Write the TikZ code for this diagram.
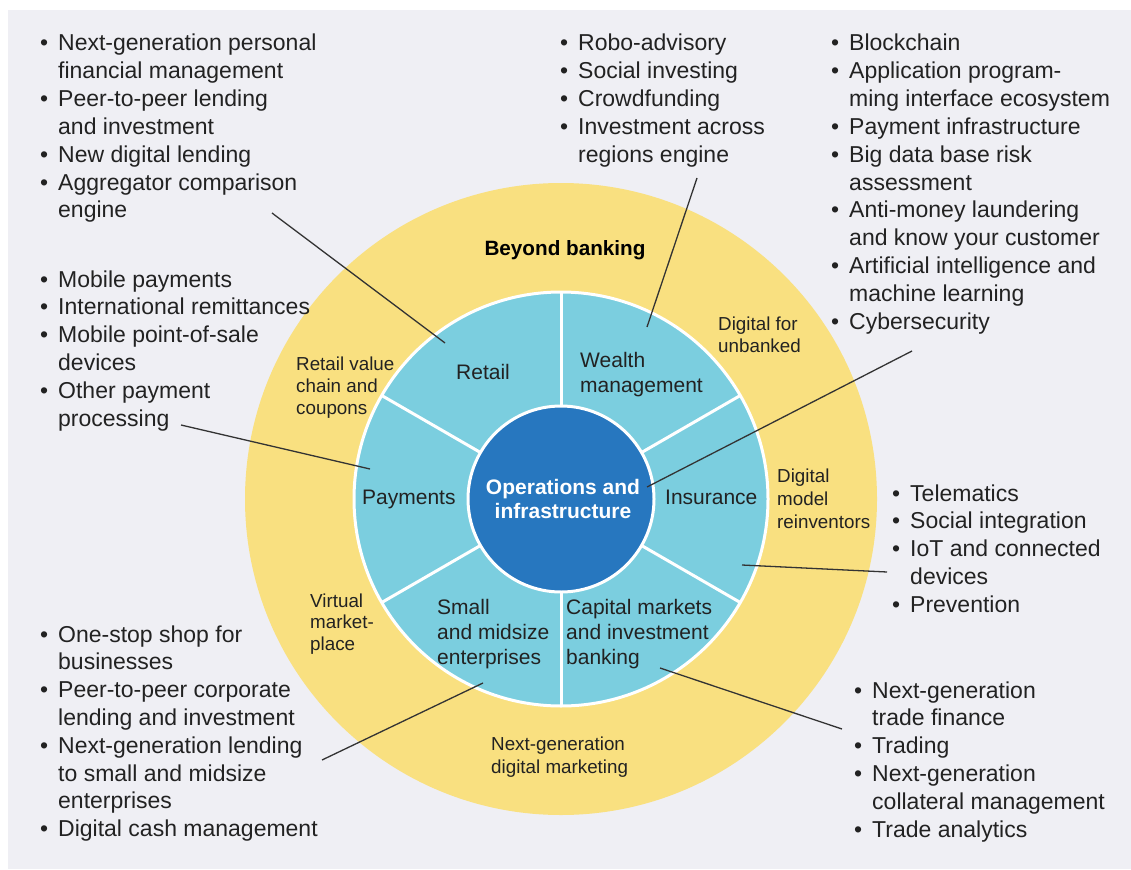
\documentclass[tikz,border=0pt]{standalone}
\usepackage{fontspec}
\setmainfont{Liberation Sans}
\definecolor{panel}{HTML}{EFEFF4}
\definecolor{ringY}{HTML}{F9E080}
\definecolor{segB}{HTML}{7BCEDF}
\definecolor{coreB}{HTML}{2777BF}
\definecolor{ink}{HTML}{222222}
\definecolor{lineC}{HTML}{333333}
\newcommand\bu{\llap{•\kern 10pt}}
% #1 style, #2 name prefix, #3 x, #4 first baseline y, #5 step, #6 lines
\newcommand\blk[6]{\foreach \t [count=\i from 0] in {#6} {\node[#1] (#2\i) at ({#3},{#4+\i*#5}) {\t};}}
\tikzset{
  bul/.style={anchor=base west, inner sep=0pt, text=ink, font=\fontsize{23}{27.8}\selectfont},
  seg/.style={anchor=base west, inner sep=0pt, text=ink, font=\fontsize{21}{25}\selectfont},
  segc/.style={seg, anchor=base},
  ringlab/.style={anchor=base west, inner sep=0pt, text=ink, font=\fontsize{18.8}{23}\selectfont},
  ringtitle/.style={anchor=base, inner sep=0pt, text=black, font=\fontsize{20.7}{24}\selectfont\bfseries},
  coretext/.style={anchor=base, inner sep=0pt, text=white, font=\fontsize{21}{24}\selectfont\bfseries},
  conn/.style={draw=lineC, line width=1.3pt},
  divider/.style={draw=white, line width=3pt},
}
\begin{document}
\begin{tikzpicture}[x=1pt, y={(0pt,-1pt)}]
\path[use as bounding box] (0,0) rectangle (1131,869);
\fill[white] (0,0) rectangle (1131,869);
\fill[panel] (8,10) rectangle (1131,869);
\coordinate (C) at (561,499);
\fill[ringY] (C) circle[radius=316pt];
\filldraw[fill=segB, divider] (C) circle[radius=207pt];
\foreach \a in {30,90,150,210,270,330}
  \draw[divider] ([shift={(\a:93pt)}]C) -- ([shift={(\a:207pt)}]C);
\filldraw[fill=coreB, divider] (C) circle[radius=93pt];

% centre
\blk{coretext}{core}{563}{494}{24}{Operations and,infrastructure}
% segment labels
\node[segc] (retail) at (483,379) {Retail};
\blk{seg}{wealth}{580}{367}{25}{Wealth,management}
\node[seg] (payments) at (362,504) {Payments};
\node[seg] (insurance) at (665,504) {Insurance};
\blk{seg}{sme}{437}{614}{25}{Small,and midsize,enterprises}
\blk{seg}{capm}{566}{614}{25}{Capital markets,and investment,banking}
% ring labels
\node[ringtitle] (beyond) at (565,255) {Beyond banking};
\blk{ringlab}{rvc}{296}{370}{22}{Retail value,chain and,coupons}
\blk{ringlab}{dfu}{718}{330}{22.5}{Digital for,unbanked}
\blk{ringlab}{dmr}{777}{482}{23}{Digital,model,reinventors}
\blk{ringlab}{vmp}{310}{607}{21.5}{Virtual,market-,place}
\blk{ringlab}{ngdm}{491}{750}{23}{Next-generation,digital marketing}

% bullet blocks
\blk{bul}{ba}{58}{51}{27.8}{\bu Next-generation personal,financial management,\bu Peer-to-peer lending,and investment,\bu New digital lending,\bu Aggregator comparison,engine}
\blk{bul}{bb}{58}{287}{27.8}{\bu Mobile payments,\bu International remittances,\bu Mobile point-of-sale,devices,\bu Other payment,processing}
\blk{bul}{bc}{578}{51}{27.8}{\bu Robo-advisory,\bu Social investing,\bu Crowdfunding,\bu Investment across,regions engine}
\blk{bul}{bd}{849}{51}{27.8}{\bu Blockchain,\bu Application program-,ming interface ecosystem,\bu Payment infrastructure,\bu Big data base risk,assessment,\bu Anti-money laundering,and know your customer,\bu Artificial intelligence and,machine learning,\bu Cybersecurity}
\blk{bul}{be}{910}{501}{27.8}{\bu Telematics,\bu Social integration,\bu IoT and connected,devices,\bu Prevention}
\blk{bul}{bf}{58}{642}{27.8}{\bu One-stop shop for,businesses,\bu Peer-to-peer corporate,lending and investment,\bu Next-generation lending,to small and midsize,enterprises,\bu Digital cash management}
\blk{bul}{bg}{872}{698}{27.8}{\bu Next-generation,trade finance,\bu Trading,\bu Next-generation,collateral management,\bu Trade analytics}

% connector ends
\coordinate (retailIn) at (445,343);   \coordinate (retailOut) at (272,213);
\coordinate (payIn) at (370,469);      \coordinate (payOut) at (181,425);
\coordinate (wealthIn) at (647,327);   \coordinate (wealthOut) at (697,178);
\coordinate (opsIn) at (647,487);      \coordinate (opsOut) at (912,351);
\coordinate (insIn) at (742,565);      \coordinate (insOut) at (887,572);
\coordinate (smeIn) at (483,683);      \coordinate (smeOut) at (322,760);
\coordinate (capIn) at (660,668);      \coordinate (capOut) at (842,729);
\draw[conn] (retailIn) -- (retailOut);
\draw[conn] (payIn) -- (payOut);
\draw[conn] (wealthIn) -- (wealthOut);
\draw[conn] (opsIn) -- (opsOut);
\draw[conn] (insIn) -- (insOut);
\draw[conn] (smeIn) -- (smeOut);
\draw[conn] (capIn) -- (capOut);
\end{tikzpicture}
\end{document}
